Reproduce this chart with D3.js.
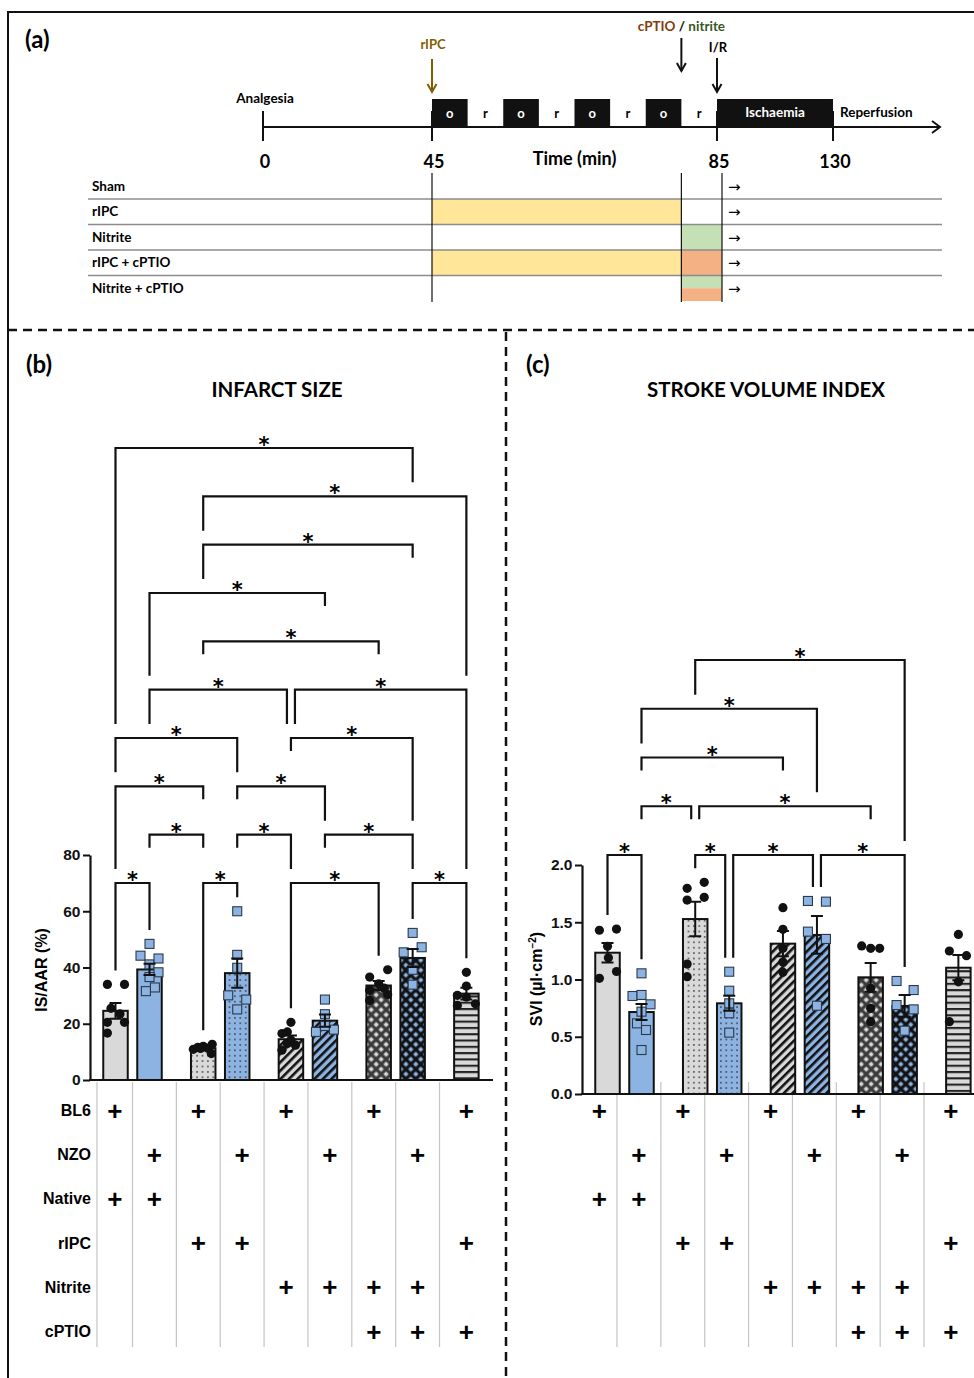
<!DOCTYPE html>
<html lang="en">
<head>
<meta charset="UTF-8">
<title>Infarct size and stroke volume index</title>
<script src="https://cdn.jsdelivr.net/npm/d3@7/dist/d3.min.js"></script>
<style>
  body { margin: 0; background: #fff; }
  svg { display: block; }
  .cal { font-family: Lato, "Open Sans", sans-serif; font-weight: 700; }
  .ari { font-family: "Liberation Sans", Arial, sans-serif; font-weight: 700; }
</style>
</head>
<body>
<script>
// ---------- (a) protocol ----------
const timeTicks = [0, 45, 85, 130];
const occlusionStarts = [45, 55, 65, 75];   // 5 min occlusion, 5 min reperfusion
const cycleLength = 5;
const ischaemia = [85, 130];
const protocolRows = ["Sham", "rIPC", "Nitrite", "rIPC + cPTIO", "Nitrite + cPTIO"];
const rowAgents = [[], ["rIPC"], ["nitrite"], ["rIPC", "cPTIO"], ["nitrite", "cPTIO"]];
const agentWindow = { rIPC: [45, 80], nitrite: [80, 85], cPTIO: [80, 85] };
const agentColour = { rIPC: "#ffe699", nitrite: "#c5e0b4", cPTIO: "#f4b183" };

// ---------- groups shared by (b) and (c) ----------
const strains = ["BL6", "NZO", "BL6", "NZO", "BL6", "NZO", "BL6", "NZO", "BL6"];
const treatments = ["native", "native", "rIPC", "rIPC", "nitrite", "nitrite",
                    "nitrite+cPTIO", "nitrite+cPTIO", "rIPC+cPTIO"];
const tableRows = ["BL6", "NZO", "Native", "rIPC", "Nitrite", "cPTIO"];

// ---------- (b) infarct size, IS/AAR % ----------
const isTicks = [0, 20, 40, 60, 80];
const isMean = [24.6, 39.3, 11.3, 38.0, 14.5, 21.1, 33.6, 43.4, 30.7];
const isSem = [2.8, 2.0, 0.5, 5.2, 1.3, 2.2, 1.6, 3.2, 2.1];
// [value, jitter]
const isPoints = [
  [[34, -0.9], [34, 1], [25.5, -0.5], [23.5, 0.5], [20.5, -0.9], [20.5, 1], [16.7, -0.9]],
  [[48.4, 0], [44.2, -1], [41.1, 0], [43.2, 1], [38.3, 1], [36.6, 0], [32.9, 0.6], [31.6, -0.4]],
  [[10.9, -1.1], [11.6, -0.6], [12.0, 0], [11.3, 0.5], [12.7, 1], [9.4, 0.9], [11.2, -0.3]],
  [[60, 0], [44.5, 0], [39.9, 0], [30.1, -1], [28.6, 1], [25.1, 0]],
  [[20.5, 0], [16.5, -1], [17.1, -0.4], [14.2, 0], [12.4, 0.5], [10.6, -1], [13.0, -0.4]],
  [[28.6, 0], [23.4, 0], [17.1, -1], [19.2, 0], [17.9, 1]],
  [[36.6, -1], [39.2, 1], [34.2, 0], [31.9, -1], [30.4, 1], [28.3, -1], [32.7, 0.6]],
  [[52.3, 0], [45.4, -1], [47.2, 1], [39.2, 0], [33.9, 0]],
  [[38.3, 0], [33.4, 0], [30.1, -1], [29.5, 0], [26.5, -1], [27.1, 1]]
];
// [from group, to group, level, left leg, right leg]
// leg: number = stops above that level, "s" = short, "d" = stops above the data
const isBrackets = [
  [0, 7, 9, 3, 8], [2, 8, 8, 7, 4], [2, 7, 7, 6, "s"], [1, 5, 6, 4, "s"],
  [2, 6, 5, "s", "s"], [1, 4, 4, 3, 3], [4, 8, 4, 3, 0], [0, 3, 3, 2, 2],
  [4, 7, 3, "s", 1], [0, 2, 2, 0, "s"], [3, 5, 2, "s", 1], [1, 2, 1, "s", "s"],
  [3, 4, 1, "s", 0], [5, 7, 1, "s", 0], [0, 1, 0, "d", "d"], [2, 3, 0, "d", "d"],
  [4, 6, 0, "d", "d"], [7, 8, 0, "d", "d"]
];

// ---------- (c) stroke volume index ----------
const sviTicks = [0, 0.5, 1.0, 1.5, 2.0];
const sviMean = [1.234, 0.716, 1.528, 0.792, 1.313, 1.389, 1.019, 0.769, 1.103];
const sviSem = [0.085, 0.07, 0.15, 0.065, 0.11, 0.165, 0.125, 0.095, 0.11];
const sviPoints = [
  [[1.43, -0.9], [1.44, 1], [1.29, 0], [1.19, 0.1], [1.01, -0.9], [1.07, 1]],
  [[1.054, 0], [0.856, -1], [0.865, 0], [0.783, 1], [0.719, 0], [0.617, -0.5], [0.559, 0.5], [0.384, 0]],
  [[1.796, -0.9], [1.849, 1], [1.694, -0.9], [1.718, 1], [1.135, -0.9], [1.025, -0.9]],
  [[1.068, 0], [0.902, 0], [0.792, 0], [0.705, 0], [0.536, 0]],
  [[1.627, 0], [1.438, 0], [1.272, 0], [1.153, 0], [1.063, 0]],
  [[1.686, -1], [1.68, 1], [1.418, -1], [1.354, 1], [0.771, 0]],
  [[1.293, -1], [1.272, 0], [1.272, 1], [0.923, 0], [0.748, 0], [0.632, 0]],
  [[0.987, -0.9], [0.908, 1], [0.777, -0.9], [0.739, 1], [0.553, 0]],
  [[1.394, 0], [1.249, -1], [1.208, 0.9], [0.98, 0], [0.632, -1]]
];
const sviBrackets = [
  [2, 7, 4, 3, 0], [1, 5, 3, 2, 1], [1, 4, 2, "s", "s"], [1, 2, 1, "s", "s"],
  [2, 6, 1, "s", "s"], [0, 1, 0, "d", "d"], [2, 3, 0, "d", "d"], [3, 5, 0, "d", "d"],
  [5, 7, 0, "d", "d"]
];

const svg = d3.select("body").append("svg").attr("width", 974).attr("height", 1378);
const defs = svg.append("defs");
const ink = "#111";

// frame + dashed dividers
svg.append("path").attr("d", "M8,1378 V12 H974").attr("fill", "none").attr("stroke", ink).attr("stroke-width", 2);
svg.append("path").attr("d", "M8,330 H974 M506,332 V1378").attr("fill", "none")
  .attr("stroke", ink).attr("stroke-width", 2.5).attr("stroke-dasharray", "9,6");

// ================= panel (a) =================
const a = svg.append("g").attr("class", "cal");
a.append("text").attr("x", 25).attr("y", 48).attr("font-size", 24).text("(a)");

const t = d3.scaleLinear().domain(timeTicks).range([263, 432, 717, 833]);
const tab = d => t(d) + (d >= 85 ? 5 : 0);   // table columns sit slightly right of I/R
const lineY = 127, boxTop = 99;

function arrowDown(x, y1, y2, colour) {
  a.append("line").attr("x1", x).attr("x2", x).attr("y1", y1).attr("y2", y2)
    .attr("stroke", colour).attr("stroke-width", 2);
  a.append("path").attr("d", `M${x - 4.5},${y2 - 8} L${x},${y2} L${x + 4.5},${y2 - 8}`)
    .attr("fill", "none").attr("stroke", colour).attr("stroke-width", 2);
}

a.append("line").attr("x1", t(0)).attr("x2", 939).attr("y1", lineY).attr("y2", lineY)
  .attr("stroke", ink).attr("stroke-width", 2);
a.append("path").attr("d", `M932,${lineY - 6} L940,${lineY} L932,${lineY + 6}`)
  .attr("fill", "none").attr("stroke", ink).attr("stroke-width", 2);

a.selectAll(".tk").data(timeTicks).join("line")
  .attr("x1", d => t(d)).attr("x2", d => t(d)).attr("y1", 111).attr("y2", 141)
  .attr("stroke", ink).attr("stroke-width", 2);
a.selectAll(".tl").data(timeTicks).join("text")
  .attr("x", d => t(d) + 2).attr("y", 168).attr("text-anchor", "middle").attr("font-size", 18)
  .text(d => d);
a.append("text").attr("x", t(65)).attr("y", 165).attr("text-anchor", "middle").attr("font-size", 18)
  .text("Time (min)");

a.selectAll(".occ").data(occlusionStarts).join("rect")
  .attr("x", d => t(d)).attr("width", d => t(d + cycleLength) - t(d))
  .attr("y", boxTop).attr("height", lineY - boxTop).attr("fill", ink);
a.selectAll(".occl").data(occlusionStarts).join("text")
  .attr("x", d => t(d + cycleLength / 2)).attr("y", 118).attr("text-anchor", "middle")
  .attr("font-size", 13).attr("fill", "#fff").text("o");
a.selectAll(".rep").data(occlusionStarts).join("text")
  .attr("x", d => t(d + cycleLength * 1.5)).attr("y", 118).attr("text-anchor", "middle")
  .attr("font-size", 13).text("r");
a.append("rect").attr("x", t(ischaemia[0])).attr("width", t(ischaemia[1]) - t(ischaemia[0]))
  .attr("y", boxTop).attr("height", lineY - boxTop).attr("fill", ink);
a.append("text").attr("x", (t(ischaemia[0]) + t(ischaemia[1])) / 2).attr("y", 117)
  .attr("text-anchor", "middle").attr("font-size", 13.5).attr("fill", "#fff").text("Ischaemia");
a.append("text").attr("x", t(ischaemia[1]) + 7).attr("y", 117).attr("font-size", 13.5).text("Reperfusion");
a.append("text").attr("x", t(0) + 2).attr("y", 103).attr("text-anchor", "middle").attr("font-size", 13.5).text("Analgesia");

arrowDown(t(45), 59, 92, "#7f6000");
a.append("text").attr("x", t(45) + 1).attr("y", 49).attr("text-anchor", "middle")
  .attr("font-size", 13).attr("fill", "#7f6000").text("rIPC");
arrowDown(t(80), 38, 71, ink);
const lab = a.append("text").attr("x", t(80)).attr("y", 31).attr("text-anchor", "middle").attr("font-size", 13.5);
lab.append("tspan").attr("fill", "#843c0c").text("cPTIO");
lab.append("tspan").attr("fill", ink).text(" / ");
lab.append("tspan").attr("fill", "#385723").text("nitrite");
arrowDown(t(85), 58, 92, ink);
a.append("text").attr("x", t(85) + 1).attr("y", 52).attr("text-anchor", "middle").attr("font-size", 13).text("I/R");

// protocol table
const row = d3.scaleBand().domain(protocolRows).range([173.5, 301]);
protocolRows.forEach((r, i) => {
  const agents = rowAgents[i];
  agents.forEach(ag => {
    const w = agentWindow[ag];
    const sharing = agents.filter(o => agentWindow[o][0] === w[0]);
    const k = sharing.indexOf(ag), h = row.bandwidth() / sharing.length;
    a.append("rect").attr("x", tab(w[0])).attr("width", tab(w[1]) - tab(w[0]))
      .attr("y", row(r) + k * h).attr("height", h).attr("fill", agentColour[ag]);
  });
  if (i > 0) a.append("line").attr("x1", 88).attr("x2", 942).attr("y1", row(r)).attr("y2", row(r))
    .attr("stroke", "#8c8c8c").attr("stroke-width", 1.5);
  a.append("text").attr("x", 92).attr("y", row(r) + 17).attr("font-size", 13.5).text(r);
  a.append("text").attr("x", tab(85) + 6).attr("y", row(r) + 18)
    .attr("style", "font-family:'DejaVu Sans';font-weight:400").attr("font-size", 15).text("→");
});
[45, 80, 85].forEach(d => a.append("line").attr("x1", tab(d)).attr("x2", tab(d))
  .attr("y1", 173).attr("y2", 302).attr("stroke", ink).attr("stroke-width", 1.2));

// ================= bar panels =================
const strainColour = { BL6: "#d9d9d9", NZO: "#8db3e2" };

function fillFor(strain, treatment) {
  const base = strainColour[strain];
  if (treatment === "native") return base;
  const id = "p-" + strain + "-" + treatment.replace(/\W/g, "");
  if (!defs.select("#" + id).empty()) return `url(#${id})`;
  const p = defs.append("pattern").attr("id", id).attr("patternUnits", "userSpaceOnUse");
  if (treatment === "rIPC") {
    p.attr("width", 5.4).attr("height", 5.4);
    p.append("rect").attr("width", 5.4).attr("height", 5.4).attr("fill", base);
    p.append("circle").attr("cx", 2.7).attr("cy", 2.7).attr("r", 0.8).attr("fill", "#333");
  } else if (treatment === "nitrite") {
    p.attr("width", 6).attr("height", 6).attr("patternTransform", "rotate(45)");
    p.append("rect").attr("width", 6).attr("height", 6).attr("fill", base);
    p.append("rect").attr("width", 2.6).attr("height", 6).attr("fill", ink);
  } else if (treatment === "nitrite+cPTIO") {
    p.attr("width", 7).attr("height", 7).attr("patternTransform", "rotate(45)");
    p.append("rect").attr("width", 7).attr("height", 7).attr("fill", strain === "BL6" ? "#3a3a3a" : ink);
    p.append("rect").attr("x", 1.6).attr("y", 1.6).attr("width", 3.8).attr("height", 3.8).attr("fill", base);
  } else {
    p.attr("width", 6.3).attr("height", 6.3);
    p.append("rect").attr("width", 6.3).attr("height", 6.3).attr("fill", base);
    p.append("rect").attr("width", 6.3).attr("height", 2.1).attr("fill", "#222");
  }
  return `url(#${id})`;
}

const slot = i => i + 0.58 * Math.floor(i / 2);
const rowY = d3.scalePoint().domain(tableRows).range([1110, 1331]);
const inRow = (r, i) => {
  const tr = treatments[i];
  if (r === "BL6" || r === "NZO") return strains[i] === r;
  if (r === "Native") return tr === "native";
  if (r === "rIPC") return tr.startsWith("rIPC");
  if (r === "Nitrite") return tr.startsWith("nitrite");
  return tr.endsWith("cPTIO");
};

function drawPanel(o) {
  const g = svg.append("g");
  const x = d3.scaleLinear().domain([0, 1]).range([o.x0, o.x0 + 34]);
  const cx = i => x(slot(i));
  const y = d3.scaleLinear().domain(o.domain).range(o.yRange);
  const lv = d3.scaleLinear().domain([0, o.levels]).range(o.levelRange);
  const n = strains.length, barW = 24.5;

  // label + title
  g.append("text").attr("class", "cal").attr("x", o.tagX).attr("y", 373).attr("font-size", 24).text(o.tag);
  g.append("text").attr("class", "cal").attr("x", o.titleX).attr("y", 397).attr("text-anchor", "middle")
    .attr("font-size", 20.5).text(o.title);

  // table grid
  const bounds = d3.range(n).map(i => (i === 0 ? cx(0) - 18.5 : (cx(i - 1) + cx(i)) / 2) + o.tableShift);
  const centres = bounds.map((b, i) => i < n - 1 ? (b + bounds[i + 1]) / 2 : cx(i) + o.tableShift);
  g.selectAll(".grid").data(o.skipFirst ? bounds.slice(1) : bounds).join("line")
    .attr("x1", d => d).attr("x2", d => d).attr("y1", 1082).attr("y2", 1347)
    .attr("stroke", "#c4c4c4").attr("stroke-width", 1.2);
  if (o.rowLabels) g.selectAll(".rl").data(tableRows).join("text").attr("class", "ari")
    .attr("x", 91).attr("y", d => rowY(d) + 6).attr("text-anchor", "end").attr("font-size", 16).text(d => d);
  tableRows.forEach(r => {
    g.selectAll(null).data(d3.range(n).filter(i => inRow(r, i))).join("text").attr("class", "ari")
      .attr("x", i => centres[i]).attr("y", rowY(r) + 9.5).attr("text-anchor", "middle")
      .attr("font-size", 26).text("+");
  });

  // bars
  g.selectAll(".bar").data(o.means).join("rect")
    .attr("x", (d, i) => cx(i) - barW / 2).attr("width", barW)
    .attr("y", d => y(d)).attr("height", d => y(0) - y(d))
    .attr("fill", (d, i) => fillFor(strains[i], treatments[i]))
    .attr("stroke", ink).attr("stroke-width", 2);

  // axes
  const ax = g.append("g").attr("transform", `translate(${o.axisX},0)`)
    .call(d3.axisLeft(y).tickValues(o.ticks).tickFormat(o.fmt).tickSize(7).tickSizeOuter(0));
  ax.select(".domain").attr("stroke", ink).attr("stroke-width", 2.2);
  ax.selectAll(".tick line").attr("stroke", ink).attr("stroke-width", 2);
  ax.selectAll(".tick text").attr("class", "ari").attr("font-size", 15.5).attr("fill", ink).attr("x", -9.5);
  g.append("line").attr("x1", o.axisX - 1).attr("x2", o.xEnd).attr("y1", y(0)).attr("y2", y(0))
    .attr("stroke", ink).attr("stroke-width", 2.2);
  const yl = g.append("text").attr("class", "ari").attr("font-size", 16).attr("text-anchor", "middle")
    .attr("transform", `translate(${o.ylabX},${o.ylabY}) rotate(-90)`);
  o.ylab(yl);

  // points
  o.points.forEach((pts, i) => {
    const px = p => cx(i) + p[1] * 9;
    if (strains[i] === "BL6") {
      g.selectAll(null).data(pts).join("circle").attr("cx", px).attr("cy", p => y(p[0]))
        .attr("r", 4.6).attr("fill", ink);
    } else {
      g.selectAll(null).data(pts).join("rect").attr("x", p => px(p) - 4.5).attr("y", p => y(p[0]) - 4.5)
        .attr("width", 9).attr("height", 9).attr("fill", "#8db3e2").attr("stroke", "#2a3a4a").attr("stroke-width", 1.1);
    }
  });

  // error bars
  o.means.forEach((m, i) => {
    const lo = y(m - o.sems[i]), hi = y(m + o.sems[i]), c = cx(i);
    g.append("path").attr("d", `M${c},${lo} V${hi} M${c - 6},${hi} H${c + 6} M${c - 6},${lo} H${c + 6}`)
      .attr("stroke", ink).attr("stroke-width", 2).attr("fill", "none");
  });

  // significance brackets
  const top = i => y(Math.max(d3.max(o.points[i], p => p[0]), o.means[i] + o.sems[i])) - 14;
  o.brackets.forEach(([p, q, L, la, lb]) => {
    const ly = lv(L);
    const same = o.brackets.filter(b => b[2] === L);
    const xa = cx(p) + (same.some(b => b[1] === p) ? 4 : 0);
    const xb = cx(q) - (same.some(b => b[0] === q) ? 4 : 0);
    const leg = (code, i) => code === "d" ? top(i) : code === "s" ? ly + 13 : lv(code) - 14;
    g.append("path").attr("d", `M${xa},${leg(la, p)} V${ly} H${xb} V${leg(lb, q)}`)
      .attr("fill", "none").attr("stroke", ink).attr("stroke-width", 2.2);
    g.append("text").attr("x", (xa + xb) / 2).attr("y", ly + 4).attr("text-anchor", "middle")
      .attr("style", "font-family:'DejaVu Sans',sans-serif;font-weight:700").attr("font-size", 21).text("*");
  });
}

drawPanel({
  tag: "(b)", tagX: 26, title: "INFARCT SIZE", titleX: 277,
  x0: 115.5, tableShift: 0, skipFirst: false, rowLabels: true,
  domain: [0, 80], yRange: [1080, 855], ticks: isTicks, fmt: d3.format("d"),
  axisX: 90, xEnd: 493,
  means: isMean, sems: isSem, points: isPoints, brackets: isBrackets,
  levels: 9, levelRange: [883, 448],
  ylabX: 47, ylabY: 970, ylab: s => s.text("IS/AAR (%)")
});

drawPanel({
  tag: "(c)", tagX: 526, title: "STROKE VOLUME INDEX", titleX: 766,
  x0: 607.5, tableShift: -7.5, skipFirst: true, rowLabels: false,
  domain: [0, 2], yRange: [1094, 865], ticks: sviTicks, fmt: d3.format(".1f"),
  axisX: 582, xEnd: 974,
  means: sviMean, sems: sviSem, points: sviPoints, brackets: sviBrackets,
  levels: 4, levelRange: [855, 660],
  ylabX: 542, ylabY: 979,
  ylab: s => {
    s.append("tspan").text("SVI (µl·cm");
    s.append("tspan").attr("font-size", 10).attr("dy", -6).text("−2");
    s.append("tspan").attr("dy", 6).text(")");
  }
});
</script>
</body>
</html>
